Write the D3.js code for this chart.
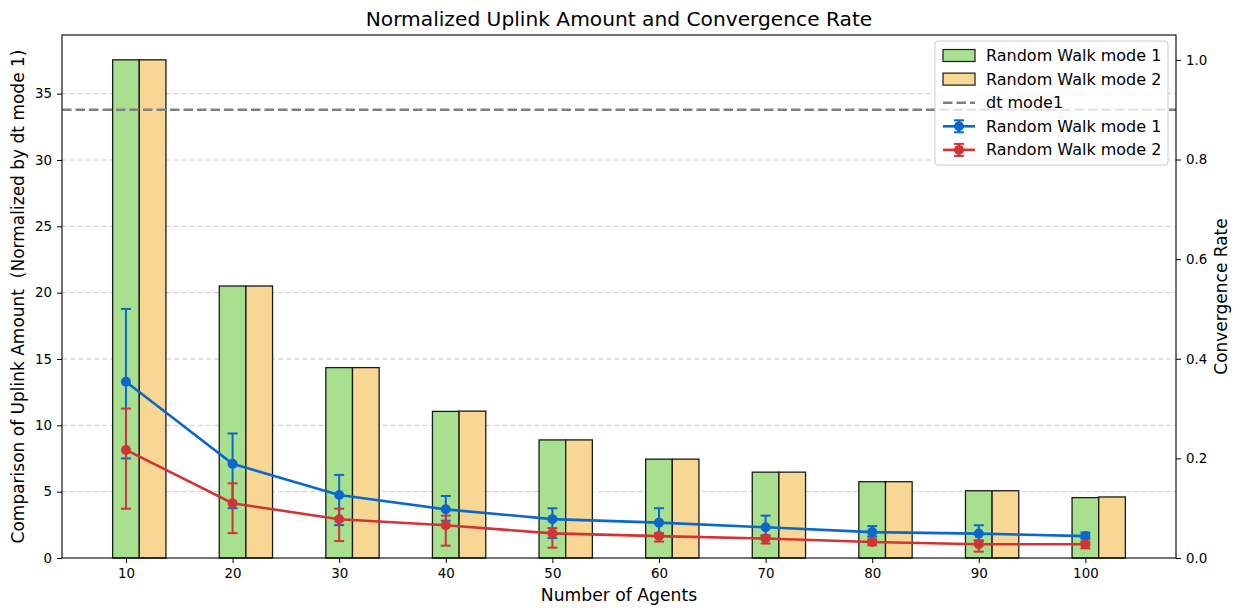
<!DOCTYPE html>
<html><head><meta charset="utf-8">
<script src="https://cdn.jsdelivr.net/npm/d3@7"></script>
<style>body{margin:0;background:#fff}svg{display:block}text{font-family:"DejaVu Sans",sans-serif}</style>
</head><body><svg id="c" width="1242" height="610"></svg>
<script>
const agents = [10,20,30,40,50,60,70,80,90,100];
const uplinkMode1 = [37.55,20.5,14.35,11.05,8.9,7.45,6.47,5.75,5.07,4.55];
const uplinkMode2 = [37.55,20.5,14.35,11.07,8.9,7.45,6.47,5.75,5.07,4.6];
const dtMode1 = 0.9;
const convMode1 = [0.354,0.189,0.1265,0.0977,0.078,0.071,0.0616,0.052,0.049,0.044];
const convMode1Lo = [0.2,0.1,0.066,0.075,0.04,0.044,0.045,0.043,0.035,0.039];
const convMode1Hi = [0.5,0.25,0.1667,0.1245,0.0998,0.1,0.085,0.064,0.0657,0.051];
const convMode2 = [0.217,0.11,0.0777,0.0656,0.0495,0.044,0.039,0.032,0.0275,0.0275];
const convMode2Lo = [0.099,0.05,0.034,0.0248,0.0207,0.033,0.029,0.0255,0.0127,0.0195];
const convMode2Hi = [0.3,0.15,0.099,0.085,0.06,0.05,0.045,0.037,0.035,0.033];
const leftTicks = [0,5,10,15,20,25,30,35];
const rightTicks = [0,0.2,0.4,0.6,0.8,1.0];

const svg = d3.select("#c");
const L=62,R=1176,T=35,B=558;
const x = d3.scaleLinear().domain([-0.6,9.85]).range([L,R]);
const yL = d3.scaleLinear().domain([0,39.42]).range([B,T]);
const yR = d3.scaleLinear().domain([0,1.05]).range([B,T]);
const bw = x(0.25)-x(0);
const green="#a8e08f", orange="#f8d693", blue="#0a68cc", red="#d03434";

// grid
svg.append("g").selectAll("line").data(leftTicks.slice(1)).join("line")
  .attr("x1",L).attr("x2",R).attr("y1",d=>yL(d)).attr("y2",d=>yL(d))
  .attr("stroke","#cccccc").attr("stroke-width",1).attr("stroke-dasharray","5,3");

// bars
const bars = svg.append("g");
bars.selectAll(".b1").data(uplinkMode1).join("rect")
  .attr("x",(d,i)=>x(i)-bw/2).attr("width",bw).attr("y",d=>yL(d)).attr("height",d=>B-yL(d))
  .attr("fill",green).attr("stroke","#1a1a1a").attr("stroke-width",1.3);
bars.selectAll(".b2").data(uplinkMode2).join("rect")
  .attr("x",(d,i)=>x(i+0.25)-bw/2).attr("width",bw).attr("y",d=>yL(d)).attr("height",d=>B-yL(d))
  .attr("fill",orange).attr("stroke","#1a1a1a").attr("stroke-width",1.3);

// dt line
svg.append("line").attr("x1",L).attr("x2",R).attr("y1",yR(dtMode1)).attr("y2",yR(dtMode1))
  .attr("stroke","#808080").attr("stroke-width",2.6).attr("stroke-dasharray","9.5,4");

// series
function series(vals,lo,hi,col){
  const g=svg.append("g");
  g.selectAll(".e").data(vals).join("line")
    .attr("x1",(d,i)=>x(i)).attr("x2",(d,i)=>x(i)).attr("y1",(d,i)=>yR(lo[i])).attr("y2",(d,i)=>yR(hi[i]))
    .attr("stroke",col).attr("stroke-width",2);
  const caps=[];vals.forEach((d,i)=>{caps.push([i,lo[i]]);caps.push([i,hi[i]]);});
  g.selectAll(".c").data(caps).join("line")
    .attr("x1",d=>x(d[0])-5).attr("x2",d=>x(d[0])+5).attr("y1",d=>yR(d[1])).attr("y2",d=>yR(d[1]))
    .attr("stroke",col).attr("stroke-width",2);
  g.append("path").datum(vals).attr("d",d3.line().x((d,i)=>x(i)).y(d=>yR(d)))
    .attr("fill","none").attr("stroke",col).attr("stroke-width",2.6);
  g.selectAll("circle").data(vals).join("circle").attr("cx",(d,i)=>x(i)).attr("cy",d=>yR(d)).attr("r",5).attr("fill",col);
}
series(convMode1,convMode1Lo,convMode1Hi,blue);
series(convMode2,convMode2Lo,convMode2Hi,red);

// axes
const ax = svg.append("g").attr("transform",`translate(0,${B})`)
  .call(d3.axisBottom(x).tickValues(d3.range(10)).tickFormat(i=>agents[i]).tickSizeOuter(0).tickSize(5).tickPadding(5));
const al = svg.append("g").attr("transform",`translate(${L},0)`)
  .call(d3.axisLeft(yL).tickValues(leftTicks).tickFormat(d3.format("d")).tickSizeOuter(0).tickSize(5).tickPadding(5));
const ar = svg.append("g").attr("transform",`translate(${R},0)`)
  .call(d3.axisRight(yR).tickValues(rightTicks).tickFormat(d3.format(".1f")).tickSizeOuter(0).tickSize(5).tickPadding(5));
[ax,al,ar].forEach(g=>{g.select(".domain").remove();g.selectAll("text").attr("font-size",13.4).attr("fill","#000").attr("font-family","DejaVu Sans");g.selectAll("line").attr("stroke","#000").attr("stroke-width",1);});
svg.append("rect").attr("x",L).attr("y",T).attr("width",R-L).attr("height",B-T).attr("fill","none").attr("stroke","#000").attr("stroke-width",1.1);

// titles
svg.append("text").attr("x",(L+R)/2).attr("y",26).attr("text-anchor","middle").attr("font-size",20.2).text("Normalized Uplink Amount and Convergence Rate");
svg.append("text").attr("x",(L+R)/2).attr("y",601).attr("text-anchor","middle").attr("font-size",17.2).text("Number of Agents");
svg.append("text").attr("transform",`translate(24,${(T+B)/2}) rotate(-90)`).attr("text-anchor","middle").attr("font-size",17).attr("xml:space","preserve").style("white-space","pre").text("Comparison of Uplink Amount  (Normalized by dt mode 1)");
svg.append("text").attr("transform",`translate(1227,${(T+B)/2}) rotate(-90)`).attr("text-anchor","middle").attr("font-size",17).text("Convergence Rate");

// legend
const lg = svg.append("g").attr("transform","translate(935,41)");
lg.append("rect").attr("width",233).attr("height",124).attr("rx",3).attr("fill","#fff").attr("fill-opacity",0.8).attr("stroke","#cccccc");
const items=[{t:"Random Walk mode 1",k:"bar",c:green},{t:"Random Walk mode 2",k:"bar",c:orange},{t:"dt mode1",k:"dash",c:"#808080"},{t:"Random Walk mode 1",k:"err",c:blue},{t:"Random Walk mode 2",k:"err",c:red}];
items.forEach((it,i)=>{
  const g=lg.append("g").attr("transform",`translate(0,${14.5+i*23.6})`);
  if(it.k==="bar") g.append("rect").attr("x",8).attr("y",-6).attr("width",32).attr("height",12).attr("fill",it.c).attr("stroke","#1a1a1a").attr("stroke-width",1.2);
  else if(it.k==="dash") g.append("line").attr("x1",8).attr("x2",40).attr("stroke",it.c).attr("stroke-width",2.6).attr("stroke-dasharray","9.5,4");
  else {
    g.append("line").attr("x1",8).attr("x2",40).attr("stroke",it.c).attr("stroke-width",2.6);
    g.append("line").attr("x1",24).attr("x2",24).attr("y1",-6).attr("y2",6).attr("stroke",it.c).attr("stroke-width",2);
    g.append("line").attr("x1",19).attr("x2",29).attr("y1",-6).attr("y2",-6).attr("stroke",it.c).attr("stroke-width",2);
    g.append("line").attr("x1",19).attr("x2",29).attr("y1",6).attr("y2",6).attr("stroke",it.c).attr("stroke-width",2);
    g.append("circle").attr("cx",24).attr("r",5).attr("fill",it.c);
  }
  g.append("text").attr("x",51).attr("y",5.5).attr("font-size",16).text(it.t);
});
</script></body></html>
